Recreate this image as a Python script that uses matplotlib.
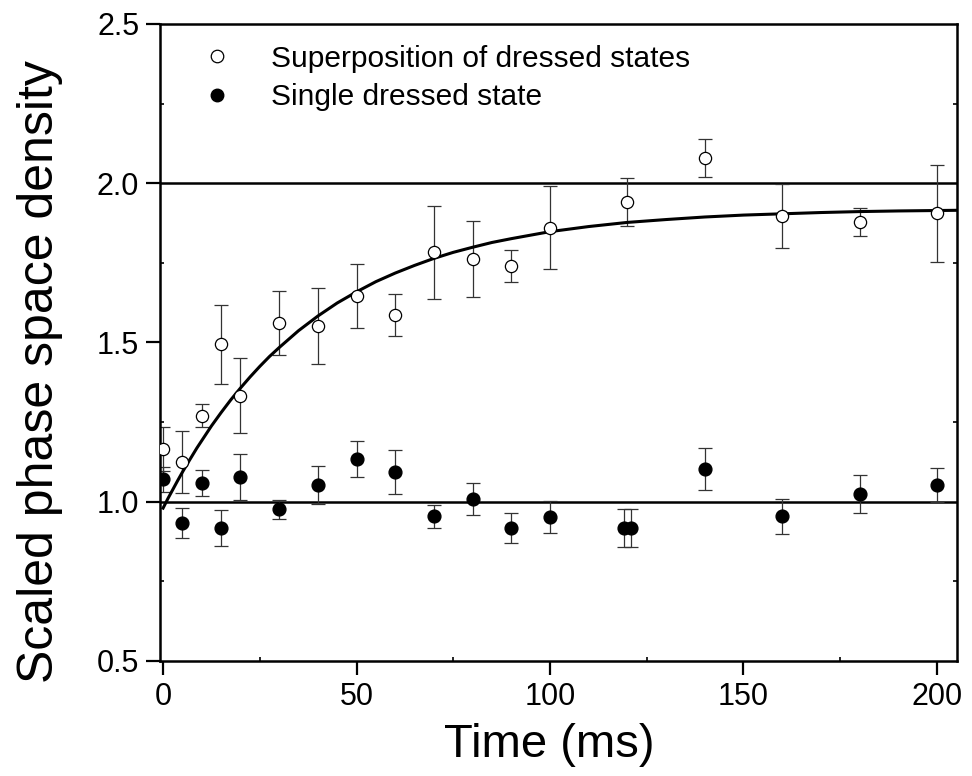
import matplotlib
matplotlib.use("Agg")
import matplotlib.pyplot as plt
from matplotlib.lines import Line2D
from matplotlib.ticker import MultipleLocator, FormatStrFormatter

plt.rcParams['font.family'] = ['Liberation Sans', 'DejaVu Sans']

# superposition of dressed states (open circles)
t_sup = [0, 5, 10, 15, 20, 30, 40, 50, 60, 70, 80, 90, 100, 120, 140, 160, 180, 200]
y_sup = [1.165, 1.125, 1.270, 1.495, 1.333, 1.561, 1.552, 1.646, 1.586, 1.784,
         1.762, 1.740, 1.860, 1.941, 2.079, 1.897, 1.878, 1.906]
e_sup = [0.07, 0.096, 0.036, 0.124, 0.117, 0.10, 0.12, 0.10, 0.065, 0.146,
         0.12, 0.05, 0.13, 0.075, 0.06, 0.10, 0.045, 0.152]

# single dressed state (filled circles)
t_single = [0, 5, 10, 15, 20, 30, 40, 50, 60, 70, 80, 90, 100, 119, 121, 140, 160, 180, 200]
y_single = [1.070, 0.933, 1.059, 0.918, 1.078, 0.977, 1.053, 1.134, 1.093, 0.955,
            1.008, 0.918, 0.952, 0.918, 0.918, 1.103, 0.955, 1.024, 1.053]
e_single = [0.04, 0.046, 0.04, 0.056, 0.073, 0.03, 0.06, 0.057, 0.07, 0.036,
            0.05, 0.047, 0.05, 0.06, 0.06, 0.067, 0.055, 0.06, 0.053]

# fitted curve
t_fit = [0, 1.25, 2.5, 3.75, 5, 6.25, 7.5, 8.75, 10, 12.5, 15, 17.5, 20, 22.5, 25,
         27.5, 30, 35, 40, 45, 50, 55, 60, 65, 70, 75, 80, 85, 90, 100, 110,
         120, 130, 140, 150, 160, 170, 180, 190, 205]
y_fit = [0.980, 1.010, 1.038, 1.066, 1.093, 1.119, 1.144, 1.169, 1.192, 1.238,
         1.280, 1.320, 1.357, 1.392, 1.425, 1.456, 1.484, 1.537, 1.583, 1.624,
         1.659, 1.691, 1.718, 1.742, 1.764, 1.783, 1.799, 1.814, 1.826, 1.848,
         1.864, 1.877, 1.886, 1.894, 1.900, 1.904, 1.908, 1.911, 1.913, 1.915]

ref_levels = [1.0, 2.0]

fig = plt.figure(figsize=(9.72, 7.76), dpi=100)
ax = fig.add_axes([0.1646, 0.1482, 0.8200, 0.8209])

for lvl in ref_levels:
    ax.axhline(lvl, color='black', lw=1.8, zorder=1)

ax.errorbar(t_sup, y_sup, yerr=e_sup, fmt='none', ecolor='#333333',
            elinewidth=0.9, capsize=5, capthick=0.9, zorder=2)
ax.errorbar(t_single, y_single, yerr=e_single, fmt='none', ecolor='#333333',
            elinewidth=0.9, capsize=5, capthick=0.9, zorder=2)

ax.plot(t_fit, y_fit, color='black', lw=2.2, zorder=3)

ax.plot(t_sup, y_sup, 'o', ms=8.8, mfc='white', mec='black', mew=0.9, zorder=4)
ax.plot(t_single, y_single, 'o', ms=9.2, mfc='black', mec='black', zorder=4)

ax.set_xlim(-0.8, 205.2)
ax.set_ylim(0.5, 2.5)
ax.xaxis.set_major_locator(MultipleLocator(50))
ax.xaxis.set_minor_locator(MultipleLocator(25))
ax.yaxis.set_major_locator(MultipleLocator(0.5))
ax.yaxis.set_minor_locator(MultipleLocator(0.25))
ax.yaxis.set_major_formatter(FormatStrFormatter('%.1f'))

ax.tick_params(which='major', direction='out', length=10, width=1.6,
               labelsize=22, pad=5)
ax.tick_params(which='minor', direction='in', length=3, width=1.2)
ax.tick_params(axis='y', which='minor', right=True)

for sp in ax.spines.values():
    sp.set_linewidth(1.8)

ax.set_xlabel('Time (ms)', fontsize=34)
ax.xaxis.set_label_coords(0.489, -0.097)
ax.set_ylabel('Scaled phase space density', fontsize=36)
ax.yaxis.set_label_coords(-0.122, 0.455)

handles = [Line2D([], [], ls='none', marker='o', ms=9, mfc='white', mec='black', mew=0.9),
           Line2D([], [], ls='none', marker='o', ms=9, mfc='black', mec='black')]
ax.legend(handles, ['Superposition of dressed states', 'Single dressed state'],
          loc='upper left', bbox_to_anchor=(0.027, 1.0), frameon=False,
          fontsize=21.5, handlelength=1.0, handletextpad=1.3, labelspacing=0.35,
          borderaxespad=0.3)

fig.savefig('out.png', dpi=100)
